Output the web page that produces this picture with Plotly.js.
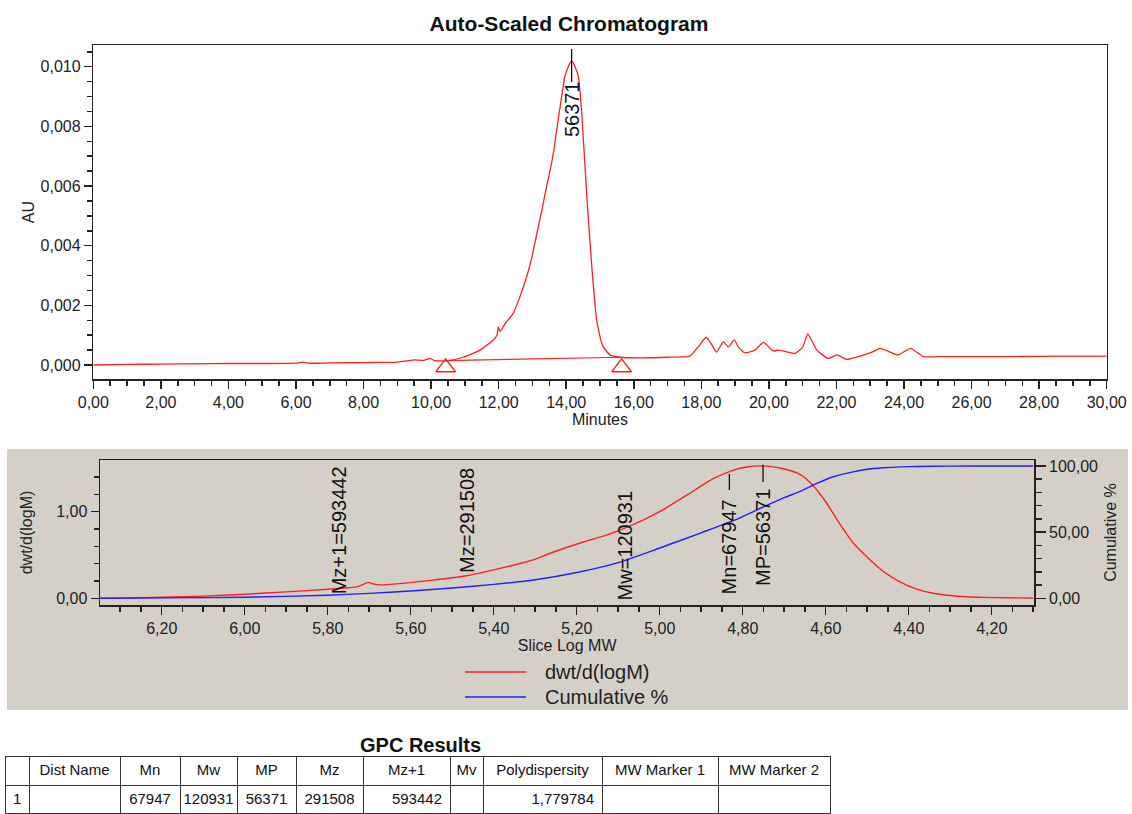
<!DOCTYPE html>
<html><head><meta charset="utf-8">
<script src="https://cdn.plot.ly/plotly-3.0.1.min.js"></script>
<style>html,body{margin:0;padding:0;background:#fff}#chart{width:1132px;height:814px}</style>
</head><body><div id="chart"></div>
<script>
// ---------- Chromatogram (top panel) ----------
const retentionTime = [0, 1, 2, 3, 4, 5, 6, 6.2, 6.4, 7, 8, 8.5, 9, 9.3, 9.5, 9.8, 9.97, 10.1, 10.46, 10.95, 11.45, 11.84, 11.95, 11.99, 12.04, 12.2, 12.43, 12.6, 12.83, 13.0, 13.13, 13.3, 13.42, 13.5, 13.62, 13.72, 13.82, 13.96, 14.06, 14.16, 14.26, 14.36, 14.46, 14.61, 14.75, 14.9, 15.05, 15.15, 15.3, 15.59, 16.18, 17.0, 17.66, 17.91, 18.14, 18.3, 18.45, 18.65, 18.8, 18.97, 19.1, 19.29, 19.59, 19.84, 20.13, 20.28, 20.5, 20.77, 21.0, 21.15, 21.42, 21.76, 22.01, 22.3, 22.7, 23.09, 23.29, 23.55, 23.83, 24.2, 24.57, 25, 26.05, 27, 28, 29, 30];
const absorbanceAU = [0, 0.00002, 0.00003, 0.00004, 0.00005, 0.00005, 0.00006, 0.0001, 0.00006, 0.00007, 0.00008, 0.00009, 0.0001, 0.00014, 0.00017, 0.00016, 0.00022, 0.00015, 0.00014, 0.00026, 0.0005, 0.00084, 0.001, 0.00128, 0.00112, 0.0014, 0.00173, 0.0022, 0.00296, 0.0037, 0.0044, 0.0053, 0.006, 0.0064, 0.0071, 0.0079, 0.00866, 0.00967, 0.0100, 0.0102, 0.0100, 0.00967, 0.00844, 0.00564, 0.0034, 0.00151, 0.00073, 0.00052, 0.00034, 0.00026, 0.00024, 0.00026, 0.0003, 0.00061, 0.00093, 0.0007, 0.00043, 0.00078, 0.00061, 0.00084, 0.0006, 0.00041, 0.0005, 0.00076, 0.00047, 0.0005, 0.00045, 0.00039, 0.0006, 0.00104, 0.0005, 0.00022, 0.00034, 0.00019, 0.0003, 0.00045, 0.00056, 0.00045, 0.00034, 0.00056, 0.00028, 0.00028, 0.00028, 0.00028, 0.00029, 0.0003, 0.0003];
const integrationTimes = [10.43, 15.64];
const integrationBaselineAU = [0.00015, 0.00026];
const integrationMarkAU = [-0.00008, -0.00008];
const peakApexTime = 14.16;

// ---------- Slice distribution (bottom panel) ----------
const sliceLogMW = [6.349, 6.25, 6.2, 6.1, 6.0, 5.9, 5.8, 5.75, 5.73, 5.715, 5.702, 5.69, 5.674, 5.626, 5.546, 5.465, 5.385, 5.33, 5.30, 5.264, 5.184, 5.128, 5.064, 5.0, 4.935, 4.871, 4.822, 4.79, 4.758, 4.73, 4.702, 4.662, 4.63, 4.598, 4.565, 4.533, 4.501, 4.461, 4.421, 4.381, 4.341, 4.3, 4.26, 4.22, 4.16, 4.1];
const dwtdlogM = [0.0, 0.006, 0.012, 0.025, 0.047, 0.075, 0.105, 0.122, 0.132, 0.16, 0.184, 0.166, 0.155, 0.17, 0.21, 0.26, 0.345, 0.41, 0.45, 0.52, 0.65, 0.73, 0.85, 1.0, 1.19, 1.38, 1.48, 1.515, 1.528, 1.52, 1.495, 1.43, 1.30, 1.10, 0.85, 0.635, 0.48, 0.31, 0.19, 0.107, 0.058, 0.032, 0.018, 0.011, 0.006, 0.003];
const cumLogMW = [6.349, 6.2, 6.0, 5.8, 5.7, 5.6, 5.5, 5.4, 5.3, 5.2, 5.1, 5.0, 4.9, 4.82, 4.75, 4.70, 4.66, 4.62, 4.58, 4.54, 4.50, 4.46, 4.42, 4.38, 4.3, 4.2, 4.1];
const cumulativePct = [0, 0.3, 0.8, 2.3, 3.7, 5.5, 7.8, 10.5, 14, 19.5, 27, 38, 49.5, 59, 69, 76, 81, 87, 92, 95.2, 97.5, 98.6, 99.3, 99.6, 99.9, 100, 100];

// ---------- GPC results ----------
const markerNames = ['Mz+1', 'Mz', 'Mw', 'Mn', 'MP'];
const markerValues = [593442, 291508, 120931, 67947, 56371];
const tableHeaders = ['', 'Dist Name', 'Mn', 'Mw', 'MP', 'Mz', 'Mz+1', 'Mv', 'Polydispersity', 'MW Marker 1', 'MW Marker 2'];
const rowIndex = ['1'];
const distName = [''];
const resMn = [67947];
const resMw = [120931];
const resMP = [56371];
const resMz = [291508];
const resMz1 = [593442];
const resMv = [''];
const resPolydispersity = [1.779784];
const resMarker1 = [''];
const resMarker2 = [''];

// ---------- layout helpers ----------
const W = 1132, H = 814;
const px = v => v / W;
const py = v => 1 - v / H;
const FONT = 'Liberation Sans, Arial, sans-serif';
const AX = '#222';

const axisBase = {
  showline: true, linecolor: AX, linewidth: 1.5, ticks: 'outside', tickcolor: AX, tickwidth: 1.5,
  showgrid: false, zeroline: false, tickfont: {family: FONT, size: 16, color: '#222'}
};

const traces = [
  {x: retentionTime, y: absorbanceAU, xaxis: 'x', yaxis: 'y', type: 'scatter', mode: 'lines',
   line: {color: '#ff2020', width: 1.3, shape: 'spline', smoothing: 0.5}, hoverinfo: 'skip'},
  {x: integrationTimes, y: integrationBaselineAU, xaxis: 'x', yaxis: 'y', type: 'scatter', mode: 'lines',
   line: {color: '#ff2020', width: 1.2}, hoverinfo: 'skip'},
  {x: integrationTimes, y: integrationMarkAU, xaxis: 'x', yaxis: 'y', type: 'scatter', mode: 'markers',
   marker: {symbol: 'triangle-up-open', size: 17, color: '#ff2020', line: {width: 1.5, color: '#ff2020'}}, hoverinfo: 'skip'},
  {x: sliceLogMW, y: dwtdlogM, xaxis: 'x2', yaxis: 'y2', type: 'scatter', mode: 'lines', name: 'dwt/d(logM)',
   line: {color: '#ff2020', width: 1.4, shape: 'spline', smoothing: 0.6}, hoverinfo: 'skip'},
  {x: cumLogMW, y: cumulativePct, xaxis: 'x2', yaxis: 'y3', type: 'scatter', mode: 'lines', name: 'Cumulative %',
   line: {color: '#2020ff', width: 1.4, shape: 'spline', smoothing: 0.6}, hoverinfo: 'skip'},
  {type: 'table', domain: {x: [px(5), px(830)], y: [0, 58 / H]},
   columnwidth: [24, 91, 60, 57, 59, 67, 87, 33, 119, 116, 112],
   header: {values: tableHeaders, align: 'center', height: 29, fill: {color: '#ffffff'},
            line: {color: '#333', width: 1}, font: {family: FONT, size: 15, color: '#111'}},
   cells: {values: [rowIndex, distName, resMn, resMw, resMP, resMz, resMz1, resMv,
                    resPolydispersity.map(v => v.toFixed(6).replace('.', ',')), resMarker1, resMarker2],
           align: ['left', 'left', 'center', 'center', 'center', 'center', 'right', 'right', 'right', 'right', 'right'],
           height: 28, fill: {color: '#ffffff'}, line: {color: '#333', width: 1},
           font: {family: FONT, size: 15, color: '#111'}}}
];

// marker label placement (centre heights in dwt units) and tick-line spans
const labelCentres = {'Mz+1': 0.782, 'Mz': 0.903, 'Mw': 0.615, 'Mn': 0.592, 'MP': 0.696};
const tickSpans = {'Mn': [1.434, 1.25], 'MP': [1.54, 1.342]};

const annotations = [
  {text: 'GPC Results', xref: 'paper', yref: 'paper', x: px(420), y: py(745), xanchor: 'center', yanchor: 'middle',
   showarrow: false, font: {family: FONT, size: 20, color: '#111', weight: 'bold'}},
  {text: 'dwt/d(logM)', xref: 'paper', yref: 'paper', x: px(543), y: py(672), xanchor: 'left', yanchor: 'middle',
   showarrow: false, font: {family: FONT, size: 20, color: '#222'}},
  {text: 'Cumulative %', xref: 'paper', yref: 'paper', x: px(543), y: py(697), xanchor: 'left', yanchor: 'middle',
   showarrow: false, font: {family: FONT, size: 20, color: '#222'}},
  {text: String(resMP[0]), xref: 'x', yref: 'y', x: peakApexTime, y: 0.008565, textangle: -90,
   xanchor: 'center', yanchor: 'middle', showarrow: false, font: {family: FONT, size: 20, color: '#111'}}
];
markerNames.forEach((n, i) => {
  annotations.push({text: n + '=' + markerValues[i], xref: 'x2', yref: 'y2', x: Math.log10(markerValues[i]),
    y: labelCentres[n], textangle: -90, xanchor: 'center', yanchor: 'middle', showarrow: false,
    font: {family: FONT, size: 20, color: '#111'}});
});

const shapes = [
  {type: 'rect', xref: 'paper', yref: 'paper', x0: px(7), x1: px(1128), y0: py(710), y1: py(449),
   fillcolor: '#d4d0c8', line: {width: 0}, layer: 'below'},
  {type: 'line', xref: 'paper', yref: 'paper', x0: px(465), x1: px(526), y0: py(672), y1: py(672),
   line: {color: '#ff2020', width: 1.5}},
  {type: 'line', xref: 'paper', yref: 'paper', x0: px(465), x1: px(526), y0: py(697), y1: py(697),
   line: {color: '#2020ff', width: 1.5}},
  {type: 'line', xref: 'x', yref: 'y', x0: peakApexTime, x1: peakApexTime, y0: 0.01059, y1: 0.00949,
   line: {color: '#111', width: 1.3}}
];
Object.keys(tickSpans).forEach(n => {
  const v = Math.log10(markerValues[markerNames.indexOf(n)]);
  shapes.push({type: 'line', xref: 'x2', yref: 'y2', x0: v, x1: v, y0: tickSpans[n][0], y1: tickSpans[n][1],
    line: {color: '#111', width: 1.3}});
});

const layout = {
  width: W, height: H, margin: {l: 0, r: 0, t: 0, b: 0},
  paper_bgcolor: '#ffffff', plot_bgcolor: 'rgba(0,0,0,0)',
  separators: ', ', showlegend: false,
  font: {family: FONT, size: 16, color: '#222'},
  title: {text: 'Auto-Scaled Chromatogram', x: px(569), xanchor: 'center', y: py(24), yanchor: 'middle',
          font: {family: FONT, size: 21, color: '#111', weight: 'bold'}},
  xaxis: Object.assign({}, axisBase, {
    domain: [px(93.3), px(1106.7)], anchor: 'y', range: [0, 30], tick0: 0, dtick: 2, tickformat: '.2f',
    ticklen: 8, mirror: true,
    minor: {dtick: 0.5, ticks: 'outside', ticklen: 5, tickwidth: 1.5, tickcolor: AX, showgrid: false},
    title: {text: 'Minutes', font: {family: FONT, size: 16, color: '#222'}, standoff: 4}}),
  yaxis: Object.assign({}, axisBase, {
    domain: [py(379.3), py(45)], anchor: 'x', range: [-0.000479, 0.010727], tick0: 0, dtick: 0.002, tickformat: '.3f',
    ticklen: 8, mirror: true,
    minor: {dtick: 0.0005, ticks: 'outside', ticklen: 5, tickwidth: 1.5, tickcolor: AX, showgrid: false},
    title: {text: 'AU', font: {family: FONT, size: 16, color: '#222'}, standoff: 2}}),
  xaxis2: Object.assign({}, axisBase, {
    domain: [px(100), px(1034.3)], anchor: 'y2', range: [6.3487, 4.0974], tick0: 0, dtick: 0.2, tickformat: '.2f',
    ticklen: 8, mirror: true,
    minor: {dtick: 0.05, ticks: 'outside', ticklen: 5, tickwidth: 1.5, tickcolor: AX, showgrid: false},
    title: {text: 'Slice Log MW', font: {family: FONT, size: 16, color: '#222'}, standoff: 2}}),
  yaxis2: Object.assign({}, axisBase, {
    domain: [py(605), py(460)], anchor: 'x2', range: [-0.077, 1.596], tick0: 0, dtick: 1, tickformat: '.2f',
    ticklen: 8,
    minor: {dtick: 0.2, ticks: 'outside', ticklen: 5, tickwidth: 1.5, tickcolor: AX, showgrid: false},
    title: {text: 'dwt/d(logM)', font: {family: FONT, size: 16, color: '#222'}, standoff: 19}}),
  yaxis3: Object.assign({}, axisBase, {
    overlaying: 'y2', side: 'right', anchor: 'x2', range: [-5.06, 104.5], tick0: 0, dtick: 50, tickformat: '.2f',
    ticklen: 10,
    minor: {dtick: 10, ticks: 'outside', ticklen: 6, tickwidth: 1.5, tickcolor: AX, showgrid: false},
    title: {text: 'Cumulative %', font: {family: FONT, size: 16, color: '#222'}, standoff: 8}}),
  annotations: annotations,
  shapes: shapes
};

Plotly.newPlot('chart', traces, layout, {staticPlot: true, displayModeBar: false});
</script>
</body></html>
